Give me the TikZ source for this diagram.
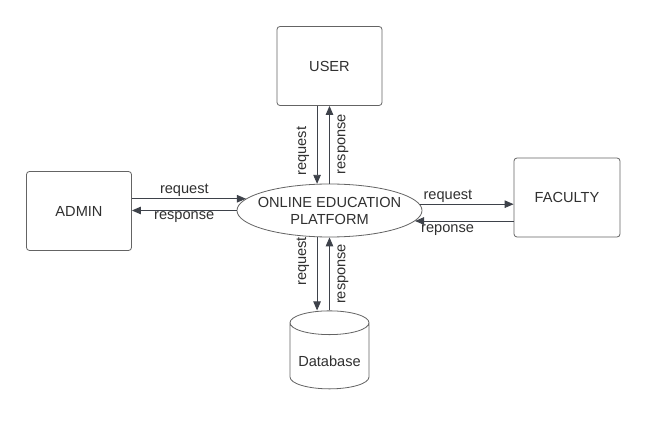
\documentclass[tikz,border=0pt]{standalone}
\usepackage{fontspec}
\setmainfont{Liberation Sans}
\usetikzlibrary{arrows.meta,shapes.geometric}
\definecolor{ink}{RGB}{48,48,48}
\definecolor{edgecol}{RGB}{62,66,74}
\definecolor{framecol}{RGB}{100,100,100}

\begin{document}
\begin{tikzpicture}[x=1pt,y=-1pt,
    every node/.style={font=\fontsize{14.6}{17}\selectfont, text=ink},
    box/.style={draw=framecol, line width=0.8pt, rounded corners=3pt,
        minimum width=105pt, minimum height=79pt},
    flow/.style={draw=edgecol, line width=0.9pt,
        -{Triangle[length=9pt,width=7.5pt]}},
    vlbl/.style={rotate=90, inner sep=7.5pt}]
    \useasboundingbox[fill=white] (0,0) rectangle (646,422);

    % entities
    \node[box] (user) at (329.5,66) {USER};
    \node[box] (admin) at (79,211) {ADMIN};
    \node[box, minimum width=106pt] (faculty) at (567,197.5) {FACULTY};
    \node[draw=framecol, line width=0.8pt, ellipse, align=center,
        inner xsep=-10pt, inner ysep=0pt, minimum width=185pt, minimum height=53pt]
        (plat) at (329.5,210.5) {ONLINE EDUCATION\\PLATFORM};
    \node[draw=framecol, line width=0.8pt, cylinder, shape border rotate=90,
        aspect=0.38, inner sep=0pt, minimum width=79pt, minimum height=78pt,
        text height=22pt]
        (db) at (329.5,356) {Database};

    % user <-> platform
    \draw[flow] (user.south -| plat.115) -- (plat.115)
        node[vlbl, pos=0.58, anchor=south] (ureq) {request};
    \draw[flow] (plat.north) -- (plat.north |- user.south)
        node[vlbl, pos=0.51, anchor=north] (ures) {response};

    % admin <-> platform
    \draw[flow] (admin.east |- plat.172) -- (plat.172)
        node[pos=0.46, above, inner sep=2pt] (areq) {request};
    \draw[flow] (plat.west) -- (admin.east |- plat.west)
        node[pos=0.5, below, inner sep=1pt] (ares) {response};

    % faculty <-> platform
    \draw[flow] (plat.4) -- (plat.4 -| faculty.west)
        node[pos=0.3, above, inner sep=1.5pt] (freq) {request};
    \draw[flow] (faculty.west |- plat.-7) -- (plat.-7)
        node[pos=0.67, below, inner sep=3.5pt] (fres) {reponse};

    % platform <-> database
    \draw[flow] (plat.245) -- (plat.245 |- db.top)
        node[vlbl, pos=0.33, anchor=south] (dreq) {request};
    \draw[flow] (db.top) -- (plat.south)
        node[vlbl, pos=0.5, anchor=north] (dres) {response};
\end{tikzpicture}
\end{document}
